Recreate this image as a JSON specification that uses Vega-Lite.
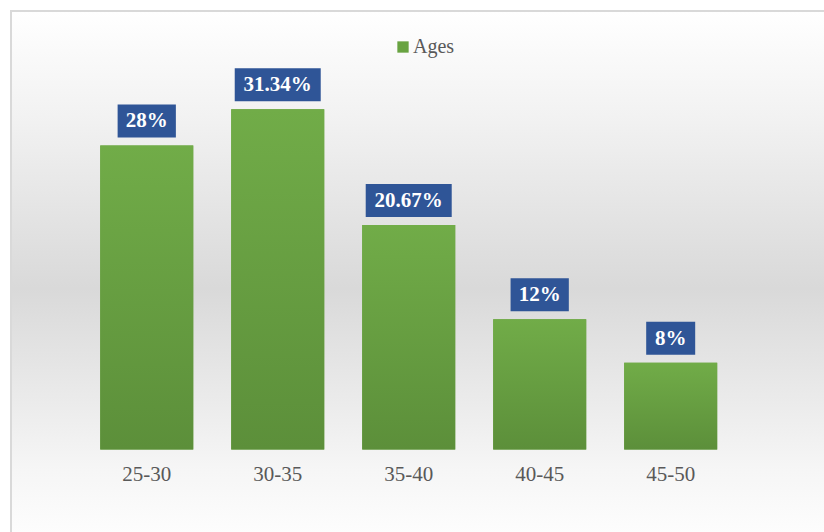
{
  "$schema": "https://vega.github.io/schema/vega-lite/v6.json",
  "width": 815,
  "height": 523,
  "autosize": {"type": "none"},
  "padding": {"left": 11, "top": 11, "right": 0, "bottom": 0},
  "background": "white",
  "config": {
    "view": {
      "stroke": "#d9d9d9",
      "strokeWidth": 2,
      "fill": {
        "gradient": "linear", "x1": 0, "y1": 0, "x2": 0, "y2": 1,
        "stops": [
          {"offset": 0, "color": "#ffffff"},
          {"offset": 0.2, "color": "#f2f2f2"},
          {"offset": 0.53, "color": "#d9d9d9"},
          {"offset": 0.88, "color": "#f6f6f6"},
          {"offset": 1, "color": "#fdfdfd"}
        ]
      }
    },
    "font": "Liberation Serif"
  },
  "data": {
    "values": [
      {"age": "25-30", "value": 28, "label": "28%", "len": 3},
      {"age": "30-35", "value": 31.34, "label": "31.34%", "len": 6},
      {"age": "35-40", "value": 20.67, "label": "20.67%", "len": 6},
      {"age": "40-45", "value": 12, "label": "12%", "len": 3},
      {"age": "45-50", "value": 8, "label": "8%", "len": 2}
    ]
  },
  "encoding": {
    "x": {
      "field": "age", "type": "nominal", "sort": null,
      "scale": {"paddingInner": 0.29, "paddingOuter": 0.756, "align": 0.4506},
      "axis": {
        "title": null, "domain": false, "ticks": false, "grid": false,
        "labelAngle": 0, "labelFont": "Liberation Serif", "labelFontSize": 21,
        "labelColor": "#595959", "labelBaseline": "middle", "labelPadding": 0,
        "offset": -60
      }
    }
  },
  "layer": [
    {
      "mark": {"type": "bar"},
      "encoding": {
        "y": {"field": "value", "type": "quantitative", "scale": {"domain": [-7.78, 40.38], "nice": false, "zero": false}, "axis": null},
        "y2": {"datum": 0},
        "color": {
          "datum": "Ages",
          "scale": {"range": ["#68A341"]},
          "legend": {
            "title": null, "orient": "none", "legendX": 382, "legendY": 26,
            "symbolType": "square", "symbolSize": 128, "symbolStrokeWidth": 0,
            "labelFont": "Liberation Serif", "labelFontSize": 20, "labelColor": "#595959",
            "labelOffset": 0
          }
        }
      }
    },
    {
      "mark": {
        "type": "bar",
        "fill": {
          "gradient": "linear", "x1": 0, "y1": 0, "x2": 0, "y2": 1,
          "stops": [
            {"offset": 0, "color": "#71AC48"},
            {"offset": 1, "color": "#5C8F3A"}
          ]
        }
      },
      "encoding": {
        "y": {"field": "value", "type": "quantitative"},
        "y2": {"datum": 0}
      }
    },
    {
      "mark": {"type": "bar", "color": "#2F5597", "yOffset": -8, "y2Offset": -41},
      "encoding": {
        "y": {"field": "value", "type": "quantitative"},
        "y2": {"field": "value"},
        "size": {"field": "len", "type": "quantitative", "scale": {"type": "linear", "domain": [2, 6], "range": [49, 86], "zero": false}, "legend": null}
      }
    },
    {
      "mark": {"type": "text", "color": "white", "fontWeight": "bold", "fontSize": 21, "font": "Liberation Serif", "baseline": "middle", "yOffset": -24},
      "encoding": {
        "y": {"field": "value", "type": "quantitative"},
        "text": {"field": "label"}
      }
    }
  ]
}
